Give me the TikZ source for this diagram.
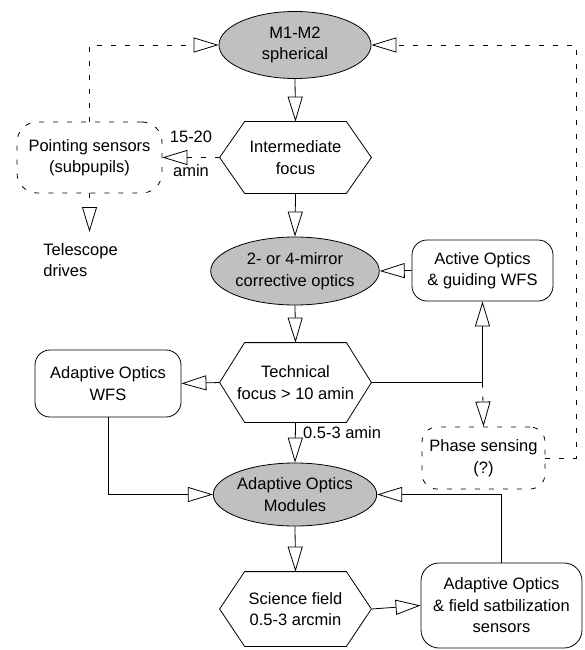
\documentclass[tikz,border=0pt]{standalone}
\usepackage{fontspec}
\setmainfont{Liberation Sans}
\usetikzlibrary{shapes.geometric, arrows.meta, calc}
\definecolor{mirrorgray}{RGB}{192,192,192}
\tikzset{
  mirrorell/.style={ellipse, draw, fill=mirrorgray, minimum width=152pt, inner sep=0pt, align=center},
  hexfocus/.style={rectangle, minimum width=151pt, inner sep=0pt, align=center},
  sensorbox/.style={rectangle, draw, rounded corners=15pt, inner sep=0pt, align=center},
  dashbox/.style={sensorbox, dash pattern=on 5pt off 9pt},
  link/.style={-{Triangle[open,length=25pt,width=15pt]}},
  senselink/.style={link, dash pattern=on 5pt off 9pt},
}
% hexagon outline round a focus node
\newcommand{\hexframe}[1]{%
  \draw ([xshift=25pt]#1.north west) -- ([xshift=-25pt]#1.north east) -- (#1.east)
    -- ([xshift=-25pt]#1.south east) -- ([xshift=25pt]#1.south west) -- (#1.west) -- cycle;}

\begin{document}
\begin{tikzpicture}[x=1pt, y=-1pt, line width=0.8pt, font=\fontsize{16.5pt}{21.5pt}\selectfont]
\useasboundingbox (0,0) rectangle (585,650);

% main optical train
\node[mirrorell, minimum height=67pt] (m12) at (295,45) {M1-M2\\spherical};
\node[hexfocus, minimum height=71pt] (inter) at (295.5,157.5) {Intermediate\\focus};
\hexframe{inter}
\node[mirrorell, minimum height=68pt] (mirr) at (295,271) {2- or 4-mirror\\corrective optics};
\node[hexfocus, minimum height=79pt] (tech) at (295.5,382.5) {Technical\\focus > 10 amin};
\hexframe{tech}
\node[mirrorell, minimum height=63pt] (aomod) at (295,494.5) {Adaptive Optics\\Modules};
\node[hexfocus, minimum height=74pt] (sci) at (295.5,609) {Science field\\0.5-3 arcmin};
\hexframe{sci}

% sensors
\node[dashbox, rounded corners=20pt, minimum width=145pt, minimum height=71pt] (point) at (89.5,157.5) {Pointing sensors\\(subpupils)};
\node[align=left, anchor=north west, inner xsep=0pt, inner ysep=11pt] (tele) at (43,232) {Telescope\\drives};
\node[sensorbox, minimum width=141pt, minimum height=61pt] (active) at (482.5,270.5) {Active Optics\\\& guiding WFS};
\node[sensorbox, minimum width=146pt, minimum height=67pt] (aowfs) at (108,383.5) {Adaptive Optics\\WFS};
\node[dashbox, minimum width=123pt, minimum height=62pt] (phase) at (483.5,458) {Phase sensing\\(?)};
\node[sensorbox, rounded corners=18pt, minimum width=161pt, minimum height=85pt] (aofs) at (501.5,605.5) {Adaptive Optics\\\& field satbilization\\sensors};

\coordinate (ret) at (576,45);
\coordinate (junc) at (tech.east -| active.south);

% connectors
\draw[link] (m12.south) -- (inter.north);
\draw[senselink] (inter.west) -- node[above=11pt]{15-20} node[below=3pt]{amin} (point.east);
\draw[senselink] (point.north) |- (m12.west);
\draw[senselink] (point.south) -- (point.south |- tele.north);
\draw[senselink] (phase.east) -| (ret) -- (m12.east);
\draw[link] (inter.south) -- (mirr.north);
\draw[link] (active.west) -- (mirr.east);
\draw[link] (mirr.south) -- (tech.north);
\draw[link] (tech.west) -- (aowfs.east);
\draw[link] (tech.east) -- (junc) -- (active.south);
\draw[senselink] (junc) -- (phase.north);
\draw[link] (tech.south) -- node[pos=0.25, anchor=west, xshift=4pt]{0.5-3 amin} (aomod.north);
\draw[link] (aowfs.south) |- (aomod.west);
\draw[link] (aofs.north) |- (aomod.east);
\draw[link] (aomod.south) -- (sci.north);
\draw[link] (sci.east) -- (aofs.west);
\end{tikzpicture}
\end{document}
